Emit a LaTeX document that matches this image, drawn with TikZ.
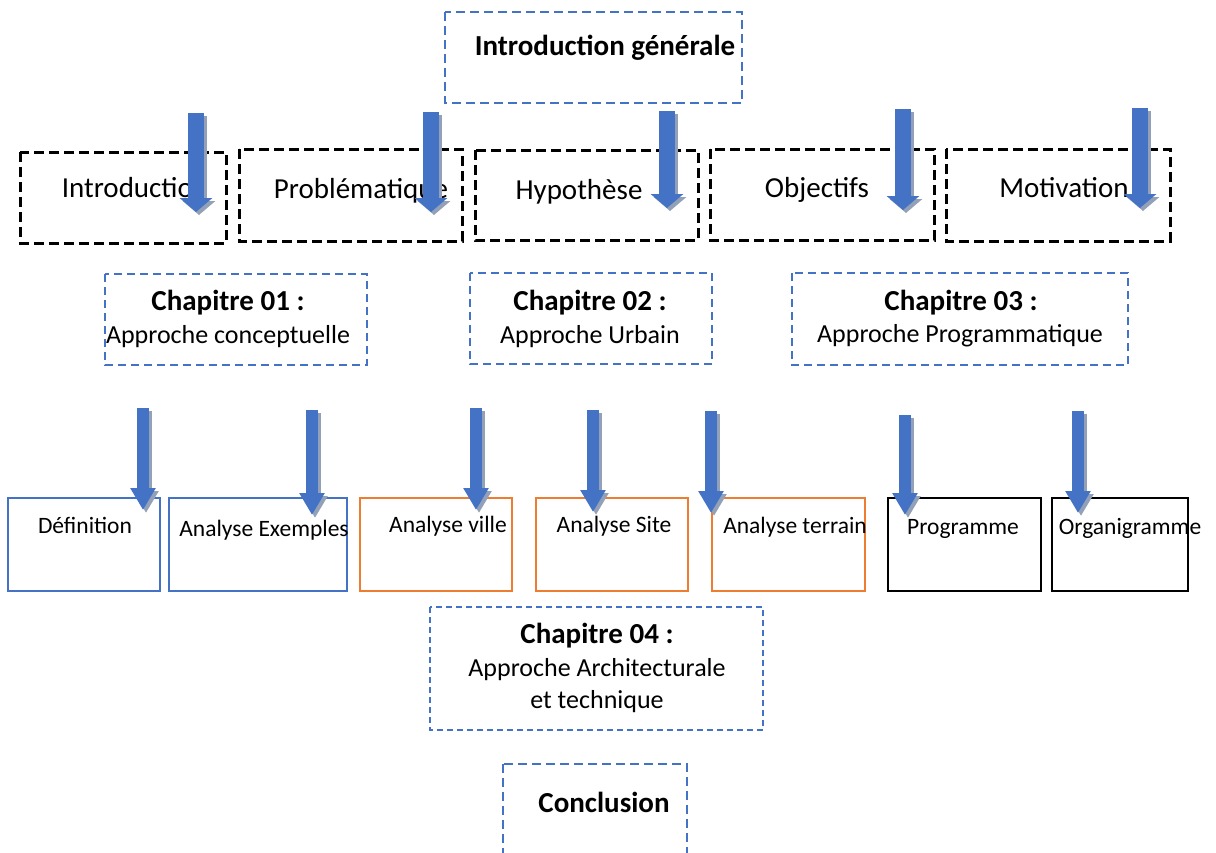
\documentclass[tikz,border=0pt]{standalone}
\usepackage{fontspec}
\setmainfont{Carlito}
\usetikzlibrary{arrows.meta}
\definecolor{wblue}{HTML}{4472C4}
\definecolor{worange}{HTML}{ED7D31}
\definecolor{wshadow}{RGB}{146,160,184}

\begin{document}
\begin{tikzpicture}[x=1pt,y=-1pt,
  titletxt/.style={anchor=base,font=\fontsize{29}{35}\selectfont\bfseries},
  rowtxt/.style={anchor=base,font=\fontsize{29}{35}\selectfont},
  chaptxt/.style={anchor=base,font=\fontsize{29}{35}\selectfont\bfseries},
  subtxt/.style={anchor=base,font=\fontsize{26}{32}\selectfont},
  parttxt/.style={anchor=base,font=\fontsize{23.5}{28}\selectfont},
  mainbox/.style={draw=wblue,line width=2.5pt,dash pattern=on 9pt off 5pt},
  rowbox/.style={draw=black,line width=3pt,dash pattern=on 10pt off 5pt},
  chapbox/.style={draw=wblue,line width=2.5pt,dash pattern=on 8pt off 5pt},
  lastbox/.style={draw=wblue,line width=2pt,dash pattern=on 6pt off 4pt},
  partbox/.style={line width=2.5pt},
  bigflow/.style={line width=16pt,-{Triangle[width=32pt,length=14pt]}},
  smallflow/.style={line width=12pt,-{Triangle[width=24pt,length=22pt]}}]

   \useasboundingbox (0,0) rectangle (1216,852);

   % introduction generale
   \draw[mainbox] (445,12) rectangle (742,103);
   \node[titletxt] (intgen) at (605,55) {Introduction générale};

   % premiere ligne
   \draw[rowbox] (20,152) rectangle (226,243);
   \draw[rowbox] (239,149) rectangle (462,241);
   \draw[rowbox] (475,150) rectangle (698,240);
   \draw[rowbox] (710,149) rectangle (934,240);
   \draw[rowbox] (946,149) rectangle (1170,241);
   \node[rowtxt] (intro) at (135,197) {Introduction};
   \node[rowtxt] (probl) at (361,198) {Problématique};
   \node[rowtxt] (hypo) at (579,199) {Hypothèse};
   \node[rowtxt] (objec) at (817,197) {Objectifs};
   \node[rowtxt] (motiv) at (1064,197) {Motivation};

   % chapitres
   \draw[chapbox] (105,274) rectangle (367,365);
   \draw[chapbox] (470,273) rectangle (712,364);
   \draw[chapbox] (792,273) rectangle (1128,365);
   \node[chaptxt] (chapA) at (228,310) {Chapitre 01 :};
   \node[subtxt] (chapAsub) at (228,343) {Approche conceptuelle};
   \node[chaptxt] (chapB) at (590,310) {Chapitre 02 :};
   \node[subtxt] (chapBsub) at (590,343) {Approche Urbain};
   \node[chaptxt] (chapC) at (961,310) {Chapitre 03 :};
   \node[subtxt] (chapCsub) at (960,342) {Approche Programmatique};

   % parties
   \draw[partbox,wblue] (8,498) rectangle (160,591);
   \draw[partbox,wblue] (169,498) rectangle (347,591);
   \draw[partbox,worange] (360,498) rectangle (512,591);
   \draw[partbox,worange] (536,498) rectangle (688,591);
   \draw[partbox,worange] (712,498) rectangle (865,591);
   \draw[partbox,black] (888,498) rectangle (1041,591);
   \draw[partbox,black] (1052,498) rectangle (1188,591);
   \node[parttxt] (defin) at (85,533) {Définition};
   \node[parttxt] (exemp) at (264,536) {Analyse Exemples};
   \node[parttxt] (ville) at (448,532) {Analyse ville};
   \node[parttxt] (site) at (614,532) {Analyse Site};
   \node[parttxt] (terr) at (795,533) {Analyse terrain};
   \node[parttxt] (progr) at (963,534) {Programme};
   \node[parttxt] (organ) at (1130,534) {Organigramme};

   % chapitre 04 et conclusion
   \draw[lastbox] (430,607) rectangle (763,730);
   \node[chaptxt] (chapD) at (597,643) {Chapitre 04 :};
   \node[subtxt] (chapDsub) at (597,676) {Approche Architecturale};
   \node[subtxt] (chapDsubb) at (597,708) {et technique};
   \draw[mainbox] (503,764) rectangle (687,900);
   \node[titletxt] (concl) at (604,812) {Conclusion};

   % fleches
   \foreach \n/\x/\ya/\yb in {1/196/113/212, 2/431/112/212, 3/667/111/208,
                             4/903/109/210, 5/1140/108/208} {
     \coordinate (top\n) at (\x,\ya);
     \coordinate (tip\n) at (\x,\yb);
     \draw[bigflow,wshadow,transform canvas={xshift=3pt,yshift=-3pt}] (top\n) -- (tip\n);
     \draw[bigflow,wblue] (top\n) -- (tip\n);
   }
   \foreach \n/\x/\ya/\yb in {1/143/408/510, 2/312/410/515, 3/476/408/510,
                             4/593/410/512, 5/711/411/513, 6/905/415/515,
                             7/1078/411/513} {
     \coordinate (stop\n) at (\x,\ya);
     \coordinate (stip\n) at (\x,\yb);
     \draw[smallflow,wshadow,transform canvas={xshift=3pt,yshift=-3pt}] (stop\n) -- (stip\n);
     \draw[smallflow,wblue] (stop\n) -- (stip\n);
   }
 \end{tikzpicture}
\end{document}
